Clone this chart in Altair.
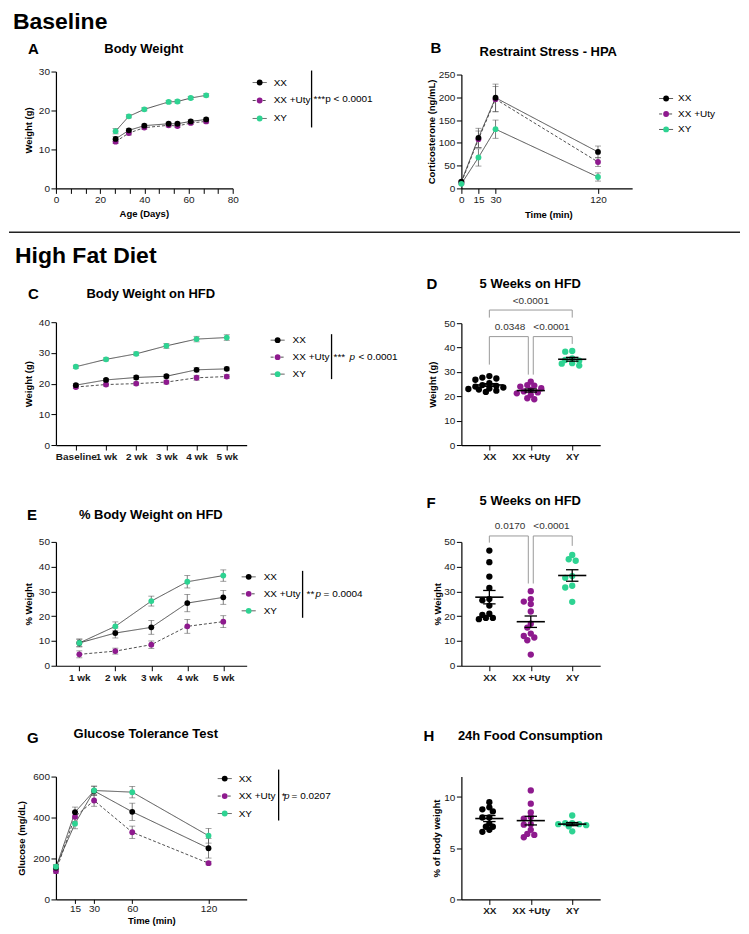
import numpy as np
import pandas as pd
import altair as alt

FONT = "Liberation Sans"
SERIES = ["XX", "XX +Uty", "XY"]
COLORS = ["#000000", "#8E1A8E", "#2ED392"]
Z_ORDER = [1, 0, 2]
LINE_COLOR = "#3c3c3c"
ERR_COLOR = "#5a5a5a"

# ---------------- A: Body Weight (baseline)
A_AGE = [27, 33, 40, 51, 55, 61, 68]
A_XX = [12.7, 14.9, 16.1, 16.6, 16.6, 17.2, 17.7]
A_UTY = [12.0, 14.2, 15.6, 16.2, 16.0, 16.8, 17.2]
A_XY = [14.7, 18.5, 20.3, 22.2, 22.3, 23.2, 23.9]
A_XX_SEM = [0.6, 0.5, 0.4, 0.4, 0.4, 0.4, 0.4]
A_UTY_SEM = [0.5, 0.5, 0.4, 0.4, 0.4, 0.4, 0.4]
A_XY_SEM = [0.7, 0.4, 0.4, 0.4, 0.4, 0.4, 0.4]

# ---------------- B: Restraint Stress - HPA
B_TIME = [0, 15, 30, 120]
B_XX = [15, 111, 199, 80]
B_UTY = [13, 108, 196, 58]
B_XY = [10, 68, 130, 25]
B_XX_SEM = [3, 21, 30, 13]
B_UTY_SEM = [3, 18, 28, 10]
B_XY_SEM = [2, 19, 20, 9]

# ---------------- C: Body Weight on HFD
C_WEEKS = ["Baseline", "1 wk", "2 wk", "3 wk", "4 wk", "5 wk"]
C_XX = [19.5, 21.2, 22.0, 22.4, 24.5, 24.8]
C_UTY = [18.9, 19.7, 20.0, 20.5, 21.9, 22.3]
C_XY = [25.5, 27.9, 29.7, 32.3, 34.5, 35.0]
C_XX_SEM = [0.5, 0.5, 0.6, 0.6, 0.7, 0.6]
C_UTY_SEM = [0.5, 0.5, 0.5, 0.6, 0.8, 0.6]
C_XY_SEM = [0.5, 0.5, 0.6, 0.8, 0.9, 0.9]

# ---------------- D: 5 weeks on HFD (weight, g)
D_XX = [28.3, 27.7, 27.3, 26.8, 25.4, 24.6, 24.3, 24.0, 23.6, 23.2, 23.0, 22.8, 22.3, 21.8]
D_UTY = [26.0, 24.6, 24.4, 24.0, 23.3, 22.6, 22.0, 21.6, 21.2, 20.6, 19.2, 18.8]
D_XY = [38.6, 38.3, 35.6, 34.9, 34.6, 33.6, 33.4, 32.6]
D_BRACKETS = [
    dict(i=0, j=1, lvl=44.5, bi=33.0, bj=28.9, t="0.0348", ty=48.3),
    dict(i=1, j=2, lvl=44.5, bi=28.9, bj=41.5, t="<0.0001", ty=48.3),
    dict(i=0, j=2, lvl=55.4, bi=52.3, bj=52.3, t="<0.0001", ty=59.2),
]

# ---------------- E: % Body Weight on HFD
E_WEEKS = ["1 wk", "2 wk", "3 wk", "4 wk", "5 wk"]
E_XX = [9.2, 13.2, 15.5, 25.3, 27.6]
E_UTY = [4.6, 5.9, 8.5, 15.9, 17.8]
E_XY = [9.2, 15.9, 26.1, 33.9, 36.4]
E_XX_SEM = [1.5, 2.0, 2.8, 3.5, 2.8]
E_UTY_SEM = [1.4, 1.2, 1.5, 2.8, 2.4]
E_XY_SEM = [1.6, 1.8, 2.0, 2.5, 2.3]

# ---------------- F: 5 weeks on HFD (% weight)
F_XX = [46.5, 41.8, 36.0, 31.4, 26.9, 26.4, 24.3, 21.0, 20.5, 19.3, 19.3, 18.8]
F_UTY = [30.1, 26.9, 25.9, 24.9, 21.9, 17.0, 15.4, 13.0, 12.0, 11.4, 10.3, 4.5]
F_XY = [44.7, 43.0, 42.4, 36.2, 35.5, 32.3, 31.6, 25.8]
F_BRACKETS = [
    dict(i=0, j=1, lvl=52.4, bi=49.7, bj=33.2, t="0.0170", ty=56.6),
    dict(i=1, j=2, lvl=52.4, bi=33.2, bj=48.4, t="<0.0001", ty=56.6),
]

# ---------------- G: Glucose Tolerance Test
G_TIME = [0, 15, 30, 60, 120]
G_XX = [155, 426, 530, 428, 250]
G_UTY = [138, 404, 483, 328, 177]
G_XY = [160, 370, 532, 524, 311]
G_XX_SEM = [12, 25, 22, 42, 48]
G_UTY_SEM = [10, 25, 28, 30, 8]
G_XY_SEM = [10, 25, 22, 28, 36]

# ---------------- H: 24h Food Consumption
H_XX = [9.5, 9.0, 8.8, 8.6, 8.0, 8.0, 7.4, 7.1, 7.1, 6.8, 6.6]
H_UTY = [10.65, 9.35, 8.5, 8.05, 7.9, 7.35, 7.3, 6.8, 6.4, 6.3, 6.07]
H_XY = [8.2, 7.45, 7.45, 7.35, 7.35, 7.25, 7.15, 6.65]

# ---------------- shared encodings / helpers
COLOR = alt.Color("series:N", scale=alt.Scale(domain=SERIES, range=COLORS), legend=None)
DASH = alt.StrokeDash("series:N", scale=alt.Scale(domain=SERIES, range=[[1, 0], [3, 2], [1, 0]]), legend=None)
ONE = pd.DataFrame({"k": [0]})
MEAN_HW, SEM_HW, GAP = 0.34, 0.15, 0.06


def yscale(domain, rng):
    return alt.Scale(domain=domain, range=rng, nice=False, zero=False)


def yaxis(values, title, tx, ty):
    return alt.Axis(values=values, title=title, titleX=tx, titleY=ty, titleAngle=270,
                    titleAlign="center", titleBaseline="middle")


def label(text, x, y, size=10, weight="normal", align="left", baseline="middle", style="normal", color="#000"):
    return alt.Chart(pd.DataFrame({"t": [text]})).mark_text(
        align=align, baseline=baseline, fontSize=size, fontWeight=weight, fontStyle=style,
        font=FONT, color=color).encode(text="t:N", x=alt.value(x), y=alt.value(y))


def vbar(x, y1, y2, color="#000", width=1.3):
    return alt.Chart(ONE).mark_rule(color=color, strokeWidth=width).encode(
        x=alt.value(x), y=alt.value(y1), y2=alt.value(y2))


def hbar(x1, x2, y, color="#222", width=1.5):
    return alt.Chart(ONE).mark_rule(color=color, strokeWidth=width).encode(
        x=alt.value(x1), x2=alt.value(x2), y=alt.value(y))


def legend_group(rows, gx, lx):
    ldf = pd.DataFrame({"series": SERIES, "row": [0, 1, 2]})
    ly = alt.Y("row:Q", scale=alt.Scale(domain=[0, 2], range=list(rows), nice=False, zero=False), axis=None)
    b = alt.Chart(ldf)
    r = b.mark_rule(color=LINE_COLOR, strokeWidth=0.9).encode(
        x=alt.value(gx - 7), x2=alt.value(gx + 7), y=ly, strokeDash=DASH)
    p = b.mark_circle(size=34, opacity=1).encode(x=alt.value(gx), y=ly, color=COLOR)
    t = b.mark_text(align="left", baseline="middle", fontSize=10, font=FONT, color="#000").encode(
        x=alt.value(lx), y=ly, text="series:N")
    return alt.layer(r, p, t)


def line_df(xs, means, sems):
    rows = []
    for si, name in enumerate(SERIES):
        for xi, (xv, m, s) in enumerate(zip(xs, means[si], sems[si])):
            rows.append(dict(x=xv, xi=xi, series=name, mean=m, lo=m - s, hi=m + s, z=Z_ORDER[si]))
    return pd.DataFrame(rows)


def line_panel(df, X, ysc, yax, w, h, legend, extras):
    def Y(f):
        return alt.Y(f, type="quantitative", scale=ysc, axis=yax)
    base = alt.Chart(df)
    ln = base.mark_line(color=LINE_COLOR, strokeWidth=0.9).encode(
        x=X, y=Y("mean"), detail="series:N", strokeDash=DASH, order=alt.Order("xi:Q"))
    eb = base.mark_rule(color=ERR_COLOR, strokeWidth=0.8).encode(x=X, y=Y("lo"), y2="hi:Q")
    cp = base.transform_fold(["lo", "hi"], as_=["k", "v"]).mark_tick(
        color=ERR_COLOR, orient="horizontal", size=6, thickness=0.8).encode(x=X, y=Y("v"))
    pt = base.mark_circle(size=34, opacity=1).encode(x=X, y=Y("mean"), color=COLOR, order=alt.Order("z:Q"))
    data = alt.layer(ln, eb, cp, pt)
    return alt.layer(data, legend, *extras).resolve_scale(y="independent").properties(width=w, height=h)


def swarm(vals, ppu, step_px, dist=4.5, s=3.5):
    vals = np.asarray(vals, float)
    order = np.argsort(-vals, kind="stable")
    placed = []
    offs = np.zeros(len(vals))
    cands = [0.0]
    for k in range(1, 12):
        cands += [-k * s, k * s]
    for i in order:
        yp = vals[i] * ppu
        for c in cands:
            if all((c - px) ** 2 + (yp - py) ** 2 >= dist ** 2 for px, py in placed):
                break
        placed.append((c, yp))
        offs[i] = c / step_px
    return offs


SC_PAD = 0.675
XSC = alt.Scale(domain=[-SC_PAD, 2 + SC_PAD], nice=False, zero=False)
XAX = alt.Axis(values=[0, 1, 2], title=None, labelFontWeight="bold",
               labelExpr="[" + ",".join("'%s'" % s for s in SERIES) + "][round(datum.value)]")


def scatter_panel(groups, ysc, yax, w, h, ppu, brackets, extras):
    step_px = w / (2 + 2 * SC_PAD)

    def X(f):
        return alt.X(f, type="quantitative", scale=XSC, axis=XAX)

    def Y(f):
        return alt.Y(f, type="quantitative", scale=ysc, axis=yax)

    prow, srow = [], []
    for gi, vals in enumerate(groups):
        offs = swarm(vals, ppu, step_px)
        for v, o in zip(vals, offs):
            prow.append(dict(series=SERIES[gi], v=v, x=gi + o))
        a = np.asarray(vals, float)
        m = a.mean()
        se = a.std(ddof=1) / np.sqrt(len(a))
        srow.append(dict(gi=gi, mean=m, lo=m - se, hi=m + se, ml=gi - MEAN_HW, mr=gi + MEAN_HW,
                         sl=gi - SEM_HW, sr=gi + SEM_HW))
    pdf, sdf = pd.DataFrame(prow), pd.DataFrame(srow)
    pts = alt.Chart(pdf).mark_circle(size=40, opacity=1).encode(x=X("x"), y=Y("v"), color=COLOR)
    sb = alt.Chart(sdf)
    meanl = sb.mark_rule(color="#000", strokeWidth=1.6).encode(x=X("ml"), x2="mr:Q", y=Y("mean"))
    semv = sb.mark_rule(color="#000", strokeWidth=1.3).encode(x=X("gi"), y=Y("lo"), y2="hi:Q")
    semc = sb.transform_fold(["lo", "hi"], as_=["k", "v"]).mark_rule(color="#000", strokeWidth=1.3).encode(
        x=X("sl"), x2="sr:Q", y=Y("v"))
    layers = [pts, meanl, semv, semc]
    if brackets:
        segs, labs = [], []
        for b in brackets:
            xi = b["i"] + (GAP if any(o is not b and o["j"] == b["i"] and o["lvl"] == b["lvl"] for o in brackets) else 0)
            xj = b["j"] - (GAP if any(o is not b and o["i"] == b["j"] and o["lvl"] == b["lvl"] for o in brackets) else 0)
            segs += [dict(x=xi, x2=xj, y=b["lvl"], y2=b["lvl"]),
                     dict(x=xi, x2=xi, y=b["bi"], y2=b["lvl"]),
                     dict(x=xj, x2=xj, y=b["bj"], y2=b["lvl"])]
            labs.append(dict(x=(b["i"] + b["j"]) / 2, y=b["ty"], t=b["t"]))
        layers.append(alt.Chart(pd.DataFrame(segs)).mark_rule(color="#9a9a9a", strokeWidth=1).encode(
            x=X("x"), x2="x2:Q", y=Y("y"), y2="y2:Q"))
        layers.append(alt.Chart(pd.DataFrame(labs)).mark_text(
            fontSize=10, font=FONT, color="#333", align="center", baseline="middle").encode(
            x=X("x"), y=Y("y"), text="t:N"))
    return alt.layer(*layers, *extras).properties(width=w, height=h)


def spacer(h, extras=()):
    base = alt.Chart(pd.DataFrame({"t": [""]})).mark_text().encode(text="t:N")
    return alt.layer(base, *extras).properties(width=1, height=h)


# ---------------- panels
A_minor = [(i * 20) / 3 for i in range(13)]
A = line_panel(
    line_df(A_AGE, [A_XX, A_UTY, A_XY], [A_XX_SEM, A_UTY_SEM, A_XY_SEM]),
    alt.X("x:Q", scale=alt.Scale(domain=[0, 80], nice=False, zero=False),
          axis=alt.Axis(values=A_minor,
                        labelExpr="abs(datum.value % 20) < 0.01 ? datum.label : ''",
                        title="Age (Days)", titleX=88, titleY=25, titleAngle=0,
                        titleAlign="center", titleBaseline="middle")),
    yscale([0, 30], [117, 0]), yaxis([0, 10, 20, 30], "Weight (g)", -27, 58.5), 177, 117,
    legend_group([11, 47], 204, 218),
    [label("Baseline", -43, -61, 23, "bold", baseline="top"),
     label("A", -28, -23, 15, "bold"),
     label("Body Weight", 88, -23, 13, "bold", align="center"),
     vbar(256, -1, 56),
     label("***p < 0.0001", 258, 28)])

B = line_panel(
    line_df(B_TIME, [B_XX, B_UTY, B_XY], [B_XX_SEM, B_UTY_SEM, B_XY_SEM]),
    alt.X("x:Q", scale=alt.Scale(domain=[0, 150], nice=False, zero=False),
          axis=alt.Axis(values=B_TIME, title="Time (min)", titleX=87, titleY=26, titleAngle=0,
                        titleAlign="center", titleBaseline="middle")),
    yscale([0, 250], [117, 3]), yaxis([0, 50, 100, 150, 200, 250], "Corticosterone (ng/mL)", -30, 60),
    171, 117, legend_group([27, 58], 205, 217),
    [label("B", -31, -24, 15, "bold"),
     label("Restraint Stress - HPA", 87, -20, 13, "bold", align="center")])

C = line_panel(
    line_df(C_WEEKS, [C_XX, C_UTY, C_XY], [C_XX_SEM, C_UTY_SEM, C_XY_SEM]),
    alt.X("x:N", scale=alt.Scale(type="point", domain=C_WEEKS, padding=0.66),
          axis=alt.Axis(title=None, labelFontWeight="bold", labelAngle=0)),
    yscale([0, 40], [123, 0]), yaxis([0, 10, 20, 30, 40], "Weight (g)", -27, 61.5), 191, 123,
    legend_group([18, 52], 222, 237),
    [label("C", -28, -28, 15, "bold"),
     label("Body Weight on HFD", 95, -28, 13, "bold", align="center"),
     vbar(276, 12, 57),
     label("***", 278, 35), label("p", 294, 35, style="italic"), label("< 0.0001", 303, 35)])

D = scatter_panel(
    [D_XX, D_UTY, D_XY], yscale([0, 50], [123, 1]),
    yaxis([0, 10, 20, 30, 40, 50], "Weight (g)", -29, 62), 139, 123, 122 / 50, D_BRACKETS,
    [label("D", -35, -38, 15, "bold"),
     label("5 Weeks on HFD", 69, -38, 13, "bold", align="center")])

E = line_panel(
    line_df(E_WEEKS, [E_XX, E_UTY, E_XY], [E_XX_SEM, E_UTY_SEM, E_XY_SEM]),
    alt.X("x:N", scale=alt.Scale(type="point", domain=E_WEEKS, padding=0.65),
          axis=alt.Axis(title=None, labelFontWeight="bold", labelAngle=0)),
    yscale([0, 50], [124, 0]), yaxis([0, 10, 20, 30, 40, 50], "% Weight", -27, 62), 191, 124,
    legend_group([35, 69], 193, 208),
    [label("E", -29, -27, 15, "bold"),
     label("% Body Weight on HFD", 95, -27, 13, "bold", align="center"),
     vbar(247, 29, 76),
     label("**", 251, 52), label("p", 260, 52, style="italic"), label("= 0.0004", 268, 52)])

F = scatter_panel(
    [F_XX, F_UTY, F_XY], yscale([0, 50], [124, 0]),
    yaxis([0, 10, 20, 30, 40, 50], "% Weight", -24, 62), 139, 124, 124 / 50, F_BRACKETS,
    [label("F", -35, -39, 15, "bold"),
     label("5 Weeks on HFD", 69, -41, 13, "bold", align="center")])

G = line_panel(
    line_df(G_TIME, [G_XX, G_UTY, G_XY], [G_XX_SEM, G_UTY_SEM, G_XY_SEM]),
    alt.X("x:Q", scale=alt.Scale(domain=[0, 150], nice=False, zero=False),
          axis=alt.Axis(values=[15, 30, 60, 120], title="Time (min)", titleX=95.5, titleY=21,
                        tickSize=4, labelPadding=0,
                        titleAngle=0, titleAlign="center", titleBaseline="middle")),
    yscale([0, 600], [123, 0]), yaxis([0, 200, 400, 600], "Glucose (mg/dL)", -34, 61.5), 191, 123,
    legend_group([2, 37], 169, 183),
    [label("G", -29, -39, 15, "bold"),
     label("Glucose Tolerance Test", 90, -43, 13, "bold", align="center"),
     vbar(223, -7, 44),
     label("*", 226, 19), label("p", 228.5, 19, style="italic"), label("= 0.0207", 236, 19)])

H = scatter_panel(
    [H_XX, H_UTY, H_XY], yscale([0, 12], [123, 0]),
    yaxis([0, 5, 10], "% of body weight", -25, 61.5), 139, 123, 123 / 12, None,
    [label("H", -38, -41, 15, "bold"),
     label("24h Food Consumption", 69, -41, 13, "bold", align="center")])

SP1L = spacer(134, [hbar(-47, 685, 44), label("High Fat Diet", -41, 68, 23, "bold")])
cells = [A, B, SP1L, spacer(134), C, D, spacer(97), spacer(97), E, F, spacer(111), spacer(111), G, H]

chart = alt.concat(
    *cells, columns=2, align="each", bounds="flush",
    spacing={"row": 0, "column": 215},
    padding={"top": 2, "left": 0, "right": 0, "bottom": 0},
).configure_view(stroke=None).configure_axis(
    domainColor="#000", domainWidth=1.2, tickColor="#000", tickWidth=1, tickSize=5,
    labelFont=FONT, labelFontSize=10, labelColor="#1a1a1a", labelPadding=1.5,
    titleFont=FONT, titleFontSize=9.5, titleFontWeight="bold", titleColor="#000",
    grid=False, labelFlush=False, labelOverlap=False,
)

chart.save("out.html", embed_options={"renderer": "svg", "actions": False})
